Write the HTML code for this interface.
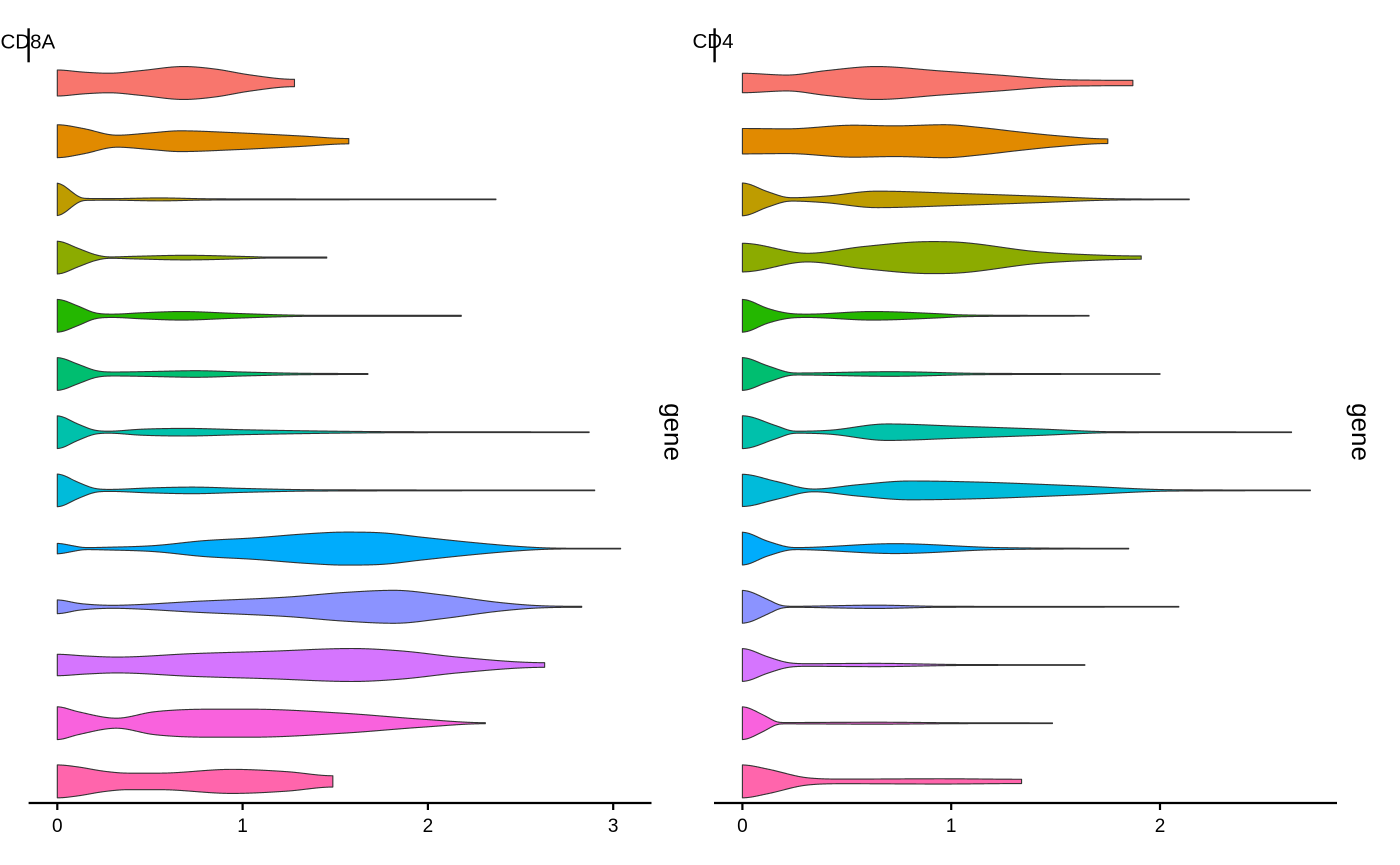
<!DOCTYPE html>
<html>
<head>
<meta charset="utf-8">
<style>
  html, body { margin: 0; padding: 0; background: #ffffff; }
  svg { display: block; }
  text { font-family: "Liberation Sans", Arial, sans-serif; fill: #000; }
</style>
</head>
<body>
<svg id="chart" width="1400" height="865" viewBox="0 0 1400 865" xmlns="http://www.w3.org/2000/svg">
  <rect x="0" y="0" width="1400" height="865" fill="#ffffff"/>
  <g id="violins"></g>

  <!-- Left panel axes -->
  <line x1="28.6" y1="803" x2="651.5" y2="803" stroke="#000" stroke-width="2.2"/>
  <line x1="57.3" y1="803" x2="57.3" y2="810" stroke="#000" stroke-width="2.2"/>
  <line x1="242.6" y1="803" x2="242.6" y2="810" stroke="#000" stroke-width="2.2"/>
  <line x1="427.9" y1="803" x2="427.9" y2="810" stroke="#000" stroke-width="2.2"/>
  <line x1="613.2" y1="803" x2="613.2" y2="810" stroke="#000" stroke-width="2.2"/>
  <text x="57.3" y="832" font-size="19" text-anchor="middle">0</text>
  <text x="242.6" y="832" font-size="19" text-anchor="middle">1</text>
  <text x="427.9" y="832" font-size="19" text-anchor="middle">2</text>
  <text x="613.2" y="832" font-size="19" text-anchor="middle">3</text>
  <line x1="28.6" y1="28.3" x2="28.6" y2="62.3" stroke="#000" stroke-width="2.4"/>
  <text x="0.5" y="48.3" font-size="20.5">CD8A</text>
  <text transform="translate(664.5,432) rotate(90)" font-size="26" text-anchor="middle">gene</text>

  <!-- Right panel axes -->
  <line x1="714" y1="803" x2="1337" y2="803" stroke="#000" stroke-width="2.2"/>
  <line x1="742.4" y1="803" x2="742.4" y2="810" stroke="#000" stroke-width="2.2"/>
  <line x1="951.2" y1="803" x2="951.2" y2="810" stroke="#000" stroke-width="2.2"/>
  <line x1="1160" y1="803" x2="1160" y2="810" stroke="#000" stroke-width="2.2"/>
  <text x="742.4" y="832" font-size="19" text-anchor="middle">0</text>
  <text x="951.2" y="832" font-size="19" text-anchor="middle">1</text>
  <text x="1160" y="832" font-size="19" text-anchor="middle">2</text>
  <line x1="714.6" y1="28.3" x2="714.6" y2="62.3" stroke="#000" stroke-width="2.4"/>
  <text x="692.5" y="47.8" font-size="20.5">CD4</text>
  <text transform="translate(1352,432) rotate(90)" font-size="26" text-anchor="middle">gene</text>
</svg>

<script>
(function(){
  var cols = ["#F8766D","#E18A00","#BE9C00","#8CAB00","#24B700","#00BE70","#00C1AB","#00BBDA","#00ACFC","#8B93FF","#D575FE","#F962DD","#FF65AC"];
  var H = 16.5;
  function yc(i){ return 83 + 58.2*i; }

  var left = [
    [[0,.79],[.14,.66],[.28,.59],[.45,.75],[.68,1.0],[.85,.85],[1.04,.49],[1.28,.22]],
    [[0,1],[.14,.77],[.32,.36],[.5,.5],[.66,.63],[.95,.52],[1.31,.32],[1.573,.16]],
    [[0,1],[.04,.8],[.09,.35],[.14,.06],[.3,.05],[.55,.09],[.8,.04],[1.3,.025],[2.367,.02]],
    [[0,1],[.11,.57],[.21,.16],[.28,.04],[.42,.08],[.69,.14],[1.04,.06],[1.14,.03],[1.454,.03]],
    [[0,1],[.11,.6],[.21,.16],[.3,.1],[.45,.18],[.67,.26],[.95,.15],[1.24,.05],[1.4,.03],[2.18,.03]],
    [[0,1],[.11,.6],[.21,.2],[.3,.12],[.5,.15],[.75,.2],[1.0,.12],[1.35,.04],[1.676,.03]],
    [[0,1],[.11,.5],[.21,.1],[.28,.06],[.45,.18],[.69,.23],[1.0,.15],[1.5,.06],[1.86,.03],[2.87,.02]],
    [[0,1],[.11,.5],[.21,.1],[.28,.06],[.5,.15],[.73,.2],[1.0,.12],[1.39,.04],[2.9,.02]],
    [[0,.32],[.08,.18],[.15,.06],[.26,.08],[.52,.18],[.79,.48],[1.06,.65],[1.35,.9],[1.55,1],[1.76,.95],[1.96,.7],[2.27,.34],[2.48,.14],[2.62,.05],[2.8,.02],[3.04,.02]],
    [[0,.42],[.12,.2],[.3,.09],[.45,.14],[.73,.32],[1.24,.59],[1.55,.87],[1.82,1.0],[2.07,.73],[2.38,.27],[2.58,.08],[2.83,.03]],
    [[0,.65],[.15,.55],[.32,.48],[.73,.69],[1.14,.83],[1.59,1.0],[1.86,.85],[2.17,.47],[2.63,.14]],
    [[0,1],[.11,.7],[.32,.3],[.52,.69],[.83,.85],[1.04,.85],[1.55,.6],[1.96,.25],[2.31,.03]],
    [[0,1],[.11,.88],[.25,.62],[.38,.5],[.55,.5],[.94,.73],[1.24,.59],[1.487,.34]]
  ];
  var right = [
    [[0,.59],[.215,.48],[.4,.75],[.64,1.0],[.95,.73],[1.23,.48],[1.5,.22],[1.7,.17],[1.87,.16]],
    [[0,.77],[.215,.75],[.53,.97],[.73,.93],[.97,1.0],[1.14,.83],[1.32,.57],[1.5,.34],[1.75,.14]],
    [[0,1],[.12,.47],[.23,.1],[.4,.2],[.64,.5],[1.04,.36],[1.41,.2],[1.78,.04],[2.14,.02]],
    [[0,.87],[.31,.26],[.58,.67],[.9,.97],[1.04,.93],[1.41,.36],[1.69,.16],[1.91,.1]],
    [[0,1],[.12,.45],[.215,.16],[.31,.1],[.62,.26],[.95,.12],[1.04,.06],[1.3,.03],[1.66,.02]],
    [[0,1],[.12,.5],[.25,.06],[.71,.14],[1.14,.04],[2.0,.02]],
    [[0,1],[.16,.4],[.25,.06],[.42,.12],[.69,.5],[1.04,.36],[1.41,.2],[1.78,.03],[2.63,.02]],
    [[0,.98],[.16,.55],[.34,.08],[.55,.34],[.8,.57],[1.14,.5],[1.6,.28],[2.06,.04],[2.72,.02]],
    [[0,1],[.12,.45],[.25,.06],[.73,.3],[1.23,.06],[1.85,.02]],
    [[0,1],[.12,.45],[.18,.1],[.23,.03],[.64,.1],[.95,.03],[2.09,.02]],
    [[0,1],[.12,.5],[.215,.15],[.31,.08],[.64,.1],[1.04,.03],[1.64,.02]],
    [[0,1],[.1,.5],[.18,.04],[.64,.06],[1.0,.03],[1.485,.02]],
    [[0,1],[.12,.75],[.31,.22],[.49,.14],[.95,.16],[1.337,.13]]
  ];

  function mono(pts){
    var n = pts.length, xs = pts.map(function(p){return p[0];}), ys = pts.map(function(p){return p[1];});
    var d = [], m = [], i;
    for(i=0;i<n-1;i++) d.push((ys[i+1]-ys[i])/(xs[i+1]-xs[i]));
    m[0] = 0; m[n-1] = 0;
    for(i=1;i<n-1;i++){ if(d[i-1]*d[i] <= 0) m[i] = 0; else m[i] = (d[i-1]+d[i])/2; }
    for(i=0;i<n-1;i++){
      if(d[i] === 0){ m[i]=0; m[i+1]=0; continue; }
      var a = m[i]/d[i], b = m[i+1]/d[i], s = a*a+b*b;
      if(s > 9){ var t = 3/Math.sqrt(s); m[i] = t*a*d[i]; m[i+1] = t*b*d[i]; }
    }
    return function(x){
      var j = 0;
      while(j < n-2 && x > xs[j+1]) j++;
      var h = xs[j+1]-xs[j], t = (x-xs[j])/h;
      if(t<0) t=0; if(t>1) t=1;
      var t2=t*t, t3=t2*t;
      return (2*t3-3*t2+1)*ys[j] + (t3-2*t2+t)*h*m[j] + (-2*t3+3*t2)*ys[j+1] + (t3-t2)*h*m[j+1];
    };
  }

  function smooth(arr, sigmaSamples){
    var r = Math.ceil(sigmaSamples*3), w = [], k, sum = 0;
    for(k=-r;k<=r;k++){ var v = Math.exp(-k*k/(2*sigmaSamples*sigmaSamples)); w.push(v); sum += v; }
    var out = [], n = arr.length;
    for(var i=0;i<n;i++){
      var acc = 0;
      for(k=-r;k<=r;k++){
        var j = i+k; if(j<0) j = 0; if(j>n-1) j = n-1;
        acc += arr[j]*w[k+r];
      }
      out.push(acc/sum);
    }
    return out;
  }

  var g = document.getElementById('violins');
  var NS = "http://www.w3.org/2000/svg";

  function draw(profiles, x0, s){
    for(var i=0;i<profiles.length;i++){
      var pts = profiles[i], f = mono(pts);
      var vend = pts[pts.length-1][0];
      var xa = x0, xb = x0 + s*vend;
      var cy = yc(i);
      var step = 0.5, xsA = [], hs = [];
      for(var x = xa; x < xb; x += step){
        xsA.push(x); hs.push(f((x - x0)/s)*H);
      }
      xsA.push(xb); hs.push(f(vend)*H);
      hs = smooth(hs, 6);
      var up = [], lo = [];
      for(var q=0;q<xsA.length;q++){
        var hw = Math.max(0.3, hs[q]);
        up.push([xsA[q], cy-hw]); lo.push([xsA[q], cy+hw]);
      }
      var d = "M" + up[0][0].toFixed(2) + "," + up[0][1].toFixed(2);
      for(var k=1;k<up.length;k++) d += "L" + up[k][0].toFixed(2) + "," + up[k][1].toFixed(2);
      for(var k2=lo.length-1;k2>=0;k2--) d += "L" + lo[k2][0].toFixed(2) + "," + lo[k2][1].toFixed(2);
      d += "Z";
      var p = document.createElementNS(NS, "path");
      p.setAttribute("d", d);
      p.setAttribute("fill", cols[i]);
      p.setAttribute("stroke", "#333333");
      p.setAttribute("stroke-width", "1.1");
      p.setAttribute("stroke-linejoin", "round");
      g.appendChild(p);
    }
  }
  draw(left, 57.3, 185.3);
  draw(right, 742.4, 208.8);
})();
</script>
</body>
</html>
